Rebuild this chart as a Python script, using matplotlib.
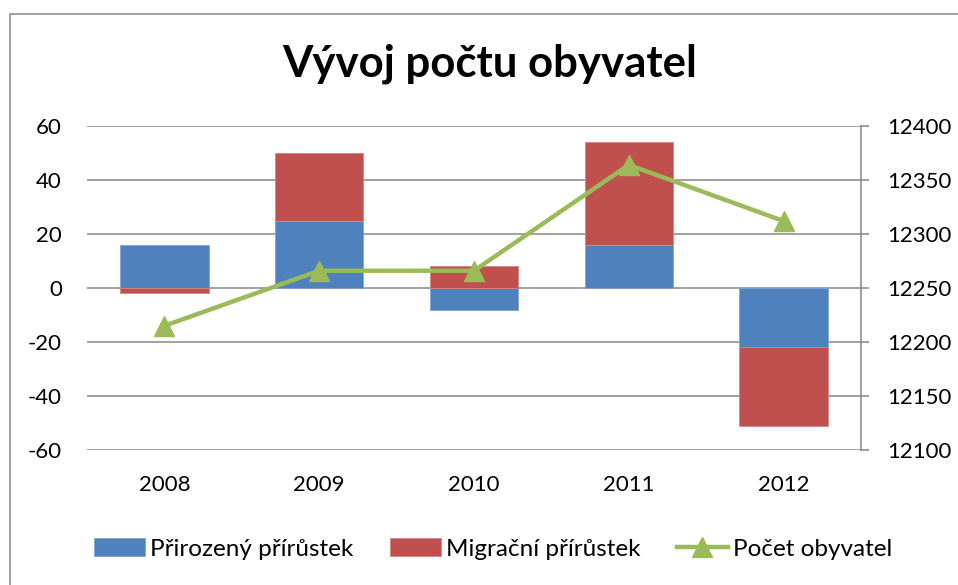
import matplotlib
matplotlib.use('Agg')
import matplotlib.pyplot as plt
from matplotlib.patches import Rectangle
import numpy as np

plt.rcParams.update({'font.family': ['Lato', 'DejaVu Sans'], 'font.size': 16,
                     'axes.unicode_minus': False})

BLUE = '#4F81BD'; RED = '#C0504D'; GREEN = '#9BBB59'; GRID = '#868686'

years = ['2008', '2009', '2010', '2011', '2012']
prirozeny = [16, 25, -8, 16, -22]
migracni = [-2, 25, 8, 38, -29]
pocet = [12215, 12266, 12266, 12364, 12312]

fig = plt.figure(figsize=(9.58, 5.85), dpi=100)
ax = fig.add_axes([87/958, 1-450/585, (861-87)/958, (450-126)/585])
x = np.arange(len(years))
w = 0.57

# Excel-style stacking: positives on positives, negatives on negatives
blue = np.array(prirozeny); red = np.array(migracni)
red_bottom = np.where(np.sign(red) == np.sign(blue), blue, 0)
ax.bar(x, blue, w, color=BLUE, edgecolor='#7FA3D0', lw=0.6, zorder=2, label='Přirozený přírůstek')
ax.bar(x, red, w, bottom=red_bottom, color=RED, edgecolor='#D8847F', lw=0.6, zorder=2, label='Migrační přírůstek')

ax.set_xlim(-0.5, len(years)-0.5)
ax.set_ylim(-60, 60)
ax.set_yticks(range(-60, 61, 20))
ax.set_xticks(x); ax.set_xticklabels(years)
ax.grid(axis='y', color=GRID, lw=1.1, zorder=0)
for s in ['left', 'top', 'right', 'bottom']:
    ax.spines[s].set_visible(False)
ax.tick_params(axis='y', length=0, pad=18)
ax.tick_params(axis='x', length=0, pad=18)

ax2 = ax.twinx()
ax2.plot(x, pocet, color=GREEN, lw=3.2, marker='^', ms=14, zorder=5, label='Počet obyvatel')
ax2.set_ylim(12100, 12400)
ax2.set_yticks(range(12100, 12401, 50))
for s in ['left', 'top', 'bottom']:
    ax2.spines[s].set_visible(False)
ax2.spines['right'].set_color(GRID); ax2.spines['right'].set_linewidth(1.1)
ax2.tick_params(axis='y', length=6, width=1.1, color=GRID, pad=13)

fig.text(490/958, 1-77/585, 'Vývoj počtu obyvatel', ha='center', va='baseline',
         fontsize=31.5, fontweight='bold')

h1, l1 = ax.get_legend_handles_labels()
h2, l2 = ax2.get_legend_handles_labels()
fig.legend(h1+h2, l1+l2, loc='center', bbox_to_anchor=(493/958, 1-549/585), ncol=3,
           frameon=False, handlelength=2.1, handletextpad=0.2, columnspacing=1.5, fontsize=17.5)

fig.add_artist(Rectangle((10/958, -0.1), 1.2, 1-14/585+0.1, transform=fig.transFigure,
                         fill=False, edgecolor=GRID, lw=1.1))
fig.savefig('out.png', dpi=100)
